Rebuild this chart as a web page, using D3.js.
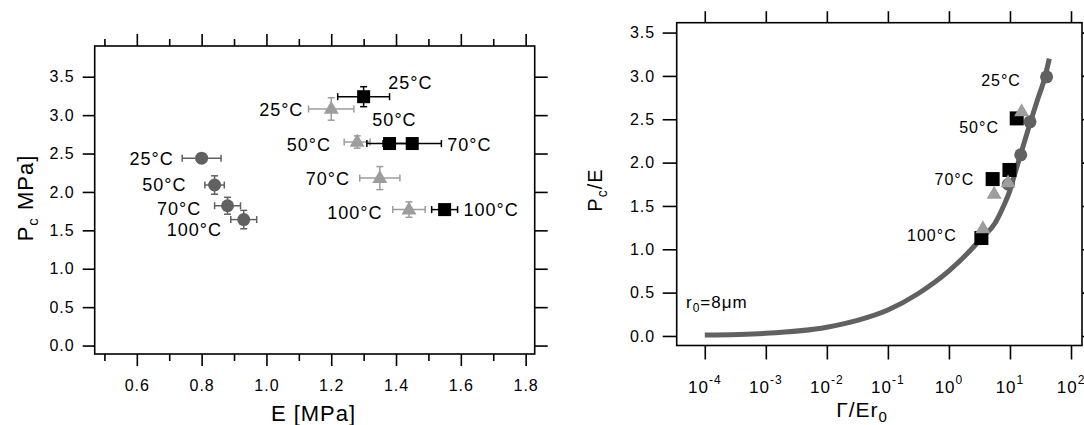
<!DOCTYPE html>
<html><head><meta charset="utf-8">
<script src="https://cdn.jsdelivr.net/npm/d3@7"></script>
<style>
body{margin:0;background:#fff}
svg{display:block}
text{font-family:"Liberation Sans",Arial,sans-serif;fill:#000;letter-spacing:1px}
</style>
</head><body>
<svg id="c" width="1084" height="425"></svg>
<script>
// ---------------- DATA ----------------
const temps = ["25°C","50°C","70°C","100°C"];

// Left panel: critical pressure Pc vs modulus E (three sample series)
const circleE    = [0.80, 0.84, 0.88, 0.93];
const circleP    = [2.44, 2.09, 1.82, 1.64];
const circleEerr = [0.06, 0.03, 0.04, 0.04];
const circlePerr = [0.00, 0.12, 0.11, 0.12];

const triE    = [1.20, 1.28, 1.35, 1.44];
const triP    = [3.08, 2.65, 2.18, 1.77];
const triEerr = [0.07, 0.04, 0.062, 0.05];
const triPerr = [0.146, 0.08, 0.15, 0.10];

const sqE    = [1.30, 1.38, 1.45, 1.55];
const sqP    = [3.24, 2.63, 2.63, 1.77];
const sqEerr = [0.08, 0.07, 0.09, 0.04];
const sqPerr = [0.13, 0.00, 0.00, 0.00];

// Left panel label anchors (data space)
const circleLabE = [0.714, 0.753, 0.799, 0.863];
const circleLabP = [2.428, 2.096, 1.783, 1.509];
const triLabE    = [1.114, 1.199, 1.258, 1.358];
const triLabP    = [3.076, 2.611, 2.169, 1.730];
const sqLabE     = [1.376, 1.327, 1.558, 1.608];
const sqLabP     = [3.423, 2.937, 2.620, 1.765];

// Right panel: Pc/E vs Gamma/(E r0)
const ratioCircleX = [39.8, 21.3, 15.0, 9.4];
const ratioCircleY = [2.99, 2.47, 2.09, 1.75];
const ratioSqX     = [12.9, 9.8, 5.2, 3.4];
const ratioSqY     = [2.51, 1.915, 1.81, 1.13];
const ratioTriX    = [15.5, 9.3, 5.5, 3.6];
const ratioTriY    = [2.59, 1.77, 1.64, 1.24];

// model curve
const fitX = [1e-4, 1e-3, 1e-2, 0.0316, 0.1, 0.316, 1, 2.0, 3.44, 5.68, 7.76, 10, 12.1, 14.6, 17.6, 22.1, 28.1, 37.5, 44.1];
const fitY = [0.01, 0.03, 0.10, 0.18, 0.30, 0.49, 0.75, 0.95, 1.13, 1.30, 1.49, 1.68, 1.88, 2.07, 2.26, 2.49, 2.72, 2.99, 3.20];

// Right panel label anchors (right end, data space)
const ratioLabX = [15.1, 6.6, 2.6, 1.34];
const ratioLabY = [2.945, 2.41, 1.81, 1.165];

// ticks
const eTicks   = [0.6, 0.8, 1.0, 1.2, 1.4, 1.6, 1.8];
const eMinor   = [0.5, 0.7, 0.9, 1.1, 1.3, 1.5, 1.7];
const pTicks   = [0, 0.5, 1.0, 1.5, 2.0, 2.5, 3.0, 3.5];
const rTicks   = [0, 0.5, 1.0, 1.5, 2.0, 2.5, 3.0, 3.5];
const gExps    = [-4, -3, -2, -1, 0, 1, 2];

// ---------------- STYLE ----------------
const DARK = "#616161", LIGHT = "#9d9d9d", BLACK = "#000";
const svg = d3.select("#c");

function styleAxis(g, fs) {
  g.select(".domain").remove();
  g.attr("font-family", null).attr("font-size", fs || 16);
  g.selectAll("line").attr("stroke", "#000").attr("stroke-width", 1.6);
  g.selectAll("text").attr("fill", "#000");
  return g;
}

// ================= LEFT PANEL =================
const L = {x0: 94.7, x1: 534.7, y0: 46, y1: 354};
const xL = d3.scaleLinear().domain([0.47, 1.828]).range([L.x0, L.x1]);
const yL = d3.scaleLinear().domain([-0.11, 3.9]).range([L.y1, L.y0]);

styleAxis(svg.append("g").attr("transform", `translate(0,${L.y1})`)
  .call(d3.axisBottom(xL).tickValues(eTicks).tickSize(12).tickPadding(13.5).tickFormat(d3.format(".1f"))), 16);
styleAxis(svg.append("g").attr("transform", `translate(0,${L.y1})`)
  .call(d3.axisBottom(xL).tickValues(eMinor).tickSize(7).tickFormat("")));
styleAxis(svg.append("g").attr("transform", `translate(0,${L.y0})`)
  .call(d3.axisTop(xL).tickValues(eTicks).tickSize(12).tickFormat("")));
styleAxis(svg.append("g").attr("transform", `translate(0,${L.y0})`)
  .call(d3.axisTop(xL).tickValues(eMinor).tickSize(7).tickFormat("")));
styleAxis(svg.append("g").attr("transform", `translate(${L.x0},0)`)
  .call(d3.axisLeft(yL).tickValues(pTicks).tickSize(12).tickPadding(8).tickFormat(d3.format(".1f"))), 16);
styleAxis(svg.append("g").attr("transform", `translate(${L.x1},0)`)
  .call(d3.axisRight(yL).tickValues(pTicks).tickSize(13).tickFormat("")));

svg.append("rect").attr("x", L.x0).attr("y", L.y0).attr("width", L.x1 - L.x0).attr("height", L.y1 - L.y0)
  .attr("fill", "none").attr("stroke", "#000").attr("stroke-width", 1.6);

svg.append("text").attr("x", 313.5).attr("y", 421).attr("text-anchor", "middle")
  .attr("font-size", 22).text("E [MPa]");
const yt = svg.append("text").attr("transform", "translate(33,198) rotate(-90)")
  .attr("text-anchor", "middle").attr("font-size", 22);
yt.append("tspan").text("P");
yt.append("tspan").attr("font-size", 15).attr("dy", 5).text("c");
yt.append("tspan").attr("dy", -5).text(" MPa]");

function errBars(g, xs, ys, xe, ye, sx, sy, color) {
  const cap = 3.5;
  xs.forEach((v, i) => {
    const cx = sx(v), cy = sy(ys[i]);
    if (xe[i] > 0) {
      const a = sx(v - xe[i]), b = sx(v + xe[i]);
      g.append("line").attr("x1", a).attr("x2", b).attr("y1", cy).attr("y2", cy);
      g.append("line").attr("x1", a).attr("x2", a).attr("y1", cy - cap).attr("y2", cy + cap);
      g.append("line").attr("x1", b).attr("x2", b).attr("y1", cy - cap).attr("y2", cy + cap);
    }
    if (ye[i] > 0) {
      const a = sy(ys[i] - ye[i]), b = sy(ys[i] + ye[i]);
      g.append("line").attr("x1", cx).attr("x2", cx).attr("y1", a).attr("y2", b);
      g.append("line").attr("x1", cx - cap).attr("x2", cx + cap).attr("y1", a).attr("y2", a);
      g.append("line").attr("x1", cx - cap).attr("x2", cx + cap).attr("y1", b).attr("y2", b);
    }
  });
  g.selectAll("line").attr("stroke", color).attr("stroke-width", 1.5);
}

const triSym = d3.symbol().type(d3.symbolTriangle);
function markers(g, kind, xs, ys, sx, sy, color, sz) {
  const data = xs.map((v, i) => [sx(v), sy(ys[i])]);
  if (kind === "circle") {
    g.selectAll("circle").data(data).join("circle")
      .attr("cx", d => d[0]).attr("cy", d => d[1]).attr("r", sz).attr("fill", color);
  } else if (kind === "square") {
    g.selectAll("rect").data(data).join("rect")
      .attr("x", d => d[0] - sz / 2).attr("y", d => d[1] - sz / 2)
      .attr("width", sz).attr("height", sz).attr("fill", color);
  } else {
    g.selectAll("path").data(data).join("path")
      .attr("transform", d => `translate(${d[0]},${d[1] + 0.5})`)
      .attr("d", triSym.size(sz * sz * Math.sqrt(3) / 4)()).attr("fill", color);
  }
}

function labels(xs, ys, sx, sy, anchor, fs) {
  xs.forEach((v, i) => {
    svg.append("text").attr("x", sx(v)).attr("y", sy(ys[i])).attr("dy", "0.35em")
      .attr("text-anchor", anchor).attr("font-size", fs).text(temps[i]);
  });
}

errBars(svg.append("g"), circleE, circleP, circleEerr, circlePerr, xL, yL, DARK);
markers(svg.append("g"), "circle", circleE, circleP, xL, yL, DARK, 6.5);
errBars(svg.append("g"), triE, triP, triEerr, triPerr, xL, yL, LIGHT);
markers(svg.append("g"), "tri", triE, triP, xL, yL, LIGHT, 15);
errBars(svg.append("g"), sqE, sqP, sqEerr, sqPerr, xL, yL, BLACK);
markers(svg.append("g"), "square", sqE, sqP, xL, yL, BLACK, 13);

labels(circleLabE, circleLabP, xL, yL, "end", 18);
labels(triLabE, triLabP, xL, yL, "end", 18);
labels(sqLabE, sqLabP, xL, yL, "start", 18);

// ================= RIGHT PANEL =================
const R = {x0: 676.7, x1: 1082, y0: 22.7, y1: 345.5};
const xR = d3.scaleLog().domain([Math.pow(10, -4.46), Math.pow(10, 2.18)]).range([R.x0, R.x1]);
const yR = d3.scaleLinear().domain([-0.11, 3.614]).range([R.y1, R.y0]);
const gTicks = gExps.map(e => Math.pow(10, e));

styleAxis(svg.append("g").attr("transform", `translate(0,${R.y1})`)
  .call(d3.axisBottom(xR).tickValues(gTicks).tickSize(14).tickFormat("")));
gExps.forEach((e, i) => {
  const t = svg.append("text").attr("x", xR(gTicks[i])).attr("y", 393)
    .attr("text-anchor", "middle").attr("font-size", 17);
  t.append("tspan").text("10");
  t.append("tspan").attr("font-size", 12).attr("dy", -9).text(String(e));
});
styleAxis(svg.append("g").attr("transform", `translate(0,${R.y0})`)
  .call(d3.axisTop(xR).tickValues(gTicks).tickSize(11.5).tickFormat("")));
styleAxis(svg.append("g").attr("transform", `translate(${R.x0},0)`)
  .call(d3.axisLeft(yR).tickValues(rTicks).tickSize(14).tickPadding(7.5).tickFormat(d3.format(".1f"))), 16);
styleAxis(svg.append("g").attr("transform", `translate(${R.x1},0)`)
  .call(d3.axisRight(yR).tickValues(rTicks).tickSize(14).tickFormat("")));

svg.append("rect").attr("x", R.x0).attr("y", R.y0).attr("width", R.x1 - R.x0).attr("height", R.y1 - R.y0)
  .attr("fill", "none").attr("stroke", "#000").attr("stroke-width", 1.6);

const xt = svg.append("text").attr("x", 862).attr("y", 417).attr("text-anchor", "middle").attr("font-size", 21);
xt.append("tspan").text("Γ/Er");
xt.append("tspan").attr("font-size", 15).attr("dy", 5).text("0");
const yt2 = svg.append("text").attr("transform", "translate(602,190) rotate(-90)")
  .attr("text-anchor", "middle").attr("font-size", 20);
yt2.append("tspan").text("P");
yt2.append("tspan").attr("font-size", 14).attr("dy", 5).text("c");
yt2.append("tspan").attr("dy", -5).text("/E");

const rt = svg.append("text").attr("x", 686).attr("y", 308).attr("font-size", 17);
rt.append("tspan").text("r");
rt.append("tspan").attr("font-size", 12).attr("dy", 4).text("0");
rt.append("tspan").attr("dy", -4).text("=8μm");

const fit = fitX.map((v, i) => [v, fitY[i]]);
svg.append("path").datum(fit)
  .attr("d", d3.line().x(d => xR(d[0])).y(d => yR(d[1])).curve(d3.curveMonotoneX))
  .attr("fill", "none").attr("stroke", DARK).attr("stroke-width", 5);

markers(svg.append("g"), "circle", ratioCircleX, ratioCircleY, xR, yR, DARK, 6.5);
markers(svg.append("g"), "square", ratioSqX, ratioSqY, xR, yR, BLACK, 14);
markers(svg.append("g"), "tri", ratioTriX, ratioTriY, xR, yR, LIGHT, 15);

labels(ratioLabX, ratioLabY, xR, yR, "end", 16);
</script>
</body></html>
